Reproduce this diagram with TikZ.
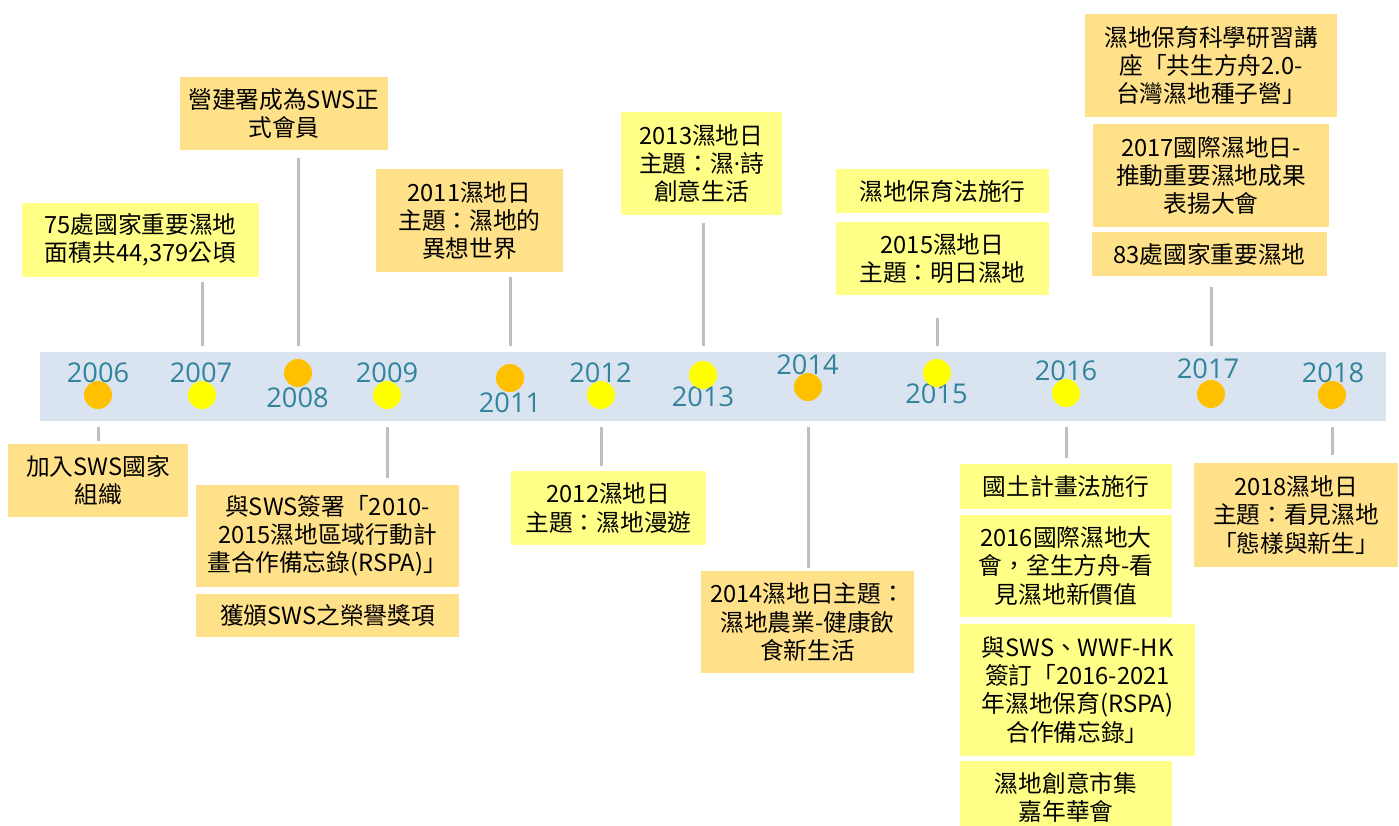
\documentclass[tikz,border=0pt]{standalone}
\usepackage{fontspec}
\newfontfamily\cjk{Noto Sans CJK TC}
\newfontfamily\yearfont{Open Sans}

\definecolor{bandblue}{HTML}{DAE3F0}
\definecolor{tanfill}{HTML}{FFE18A}
\definecolor{lemonfill}{HTML}{FFFF88}
\definecolor{dotorange}{HTML}{FFC000}
\definecolor{dotyellow}{HTML}{FFFF00}
\definecolor{yearteal}{HTML}{31849B}
\definecolor{linegray}{HTML}{BFBFBF}

\tikzset{
  evt/.style={inner sep=0pt, align=center, font=\cjk\fontsize{13.5pt}{16pt}\selectfont},
  tanbox/.style={evt, fill=tanfill},
  lemonbox/.style={evt, fill=lemonfill},
  yeardot/.style={circle, inner sep=0pt, minimum size=0.56cm},
  yearlabel/.style={text=yearteal, inner sep=0pt, font=\yearfont\fontsize{15.5pt}{18pt}\selectfont},
  conn/.style={draw=linegray, line width=0.06cm},
}

\begin{document}
\begin{tikzpicture}[x=0.02cm, y=-0.02cm]
  \useasboundingbox (0,0) rectangle (1399,825);

  % the band
  \fill[bandblue] (40,352) rectangle (1386,421);
  \coordinate (bandtop) at (0,352);
  \coordinate (bandbot) at (0,421);

  % years and dots
  \foreach \yr/\tx/\ty/\dx/\dy/\col in {
      2006/98/373/98/395/dotorange,
      2007/201/373/202/395/dotyellow,
      2008/297.5/398/298/373/dotorange,
      2009/387/373/387/395/dotyellow,
      2011/510/403/510/378/dotorange,
      2012/600.5/373/601/395/dotyellow,
      2013/703/397/703/375/dotyellow,
      2014/807.5/365/808/387/dotorange,
      2015/936.5/394/937/373/dotyellow,
      2016/1066/371/1066/393/dotyellow,
      2017/1208/369/1211/394/dotorange,
      2018/1333/373/1332/395/dotorange}{
    \node[yearlabel] (y\yr) at (\tx,\ty) {\yr};
    \node[yeardot, fill=\col] (d\yr) at (\dx,\dy) {};
  }

  % boxes above the band
  \node[lemonbox, minimum width=4.74cm, minimum height=1.48cm] (b2007) at (140.5,240)
    {75處國家重要濕地\\面積共44,379公頃};
  \node[tanbox, minimum width=4.16cm, minimum height=1.46cm] (b2008) at (284,113.5)
    {營建署成為SWS正\\式會員};
  \node[tanbox, minimum width=3.74cm, minimum height=2.06cm] (b2011) at (469.5,220.5)
    {2011濕地日\\主題：濕地的\\異想世界};
  \node[lemonbox, minimum width=3.22cm, minimum height=2.06cm] (b2013) at (701.5,163.5)
    {2013濕地日\\主題：濕{\yearfont ·}詩\\創意生活};
  \node[lemonbox, minimum width=4.26cm, minimum height=0.88cm] (b2015a) at (942.5,191)
    {濕地保育法施行};
  \node[lemonbox, minimum width=4.26cm, minimum height=1.46cm] (b2015b) at (942.5,258.5)
    {2015濕地日\\主題：明日濕地};
  \node[tanbox, minimum width=5.04cm, minimum height=2.06cm] (b2017a) at (1211,65.5)
    {濕地保育科學研習講\\座「共生方舟2.0-\\台灣濕地種子營」};
  \node[tanbox, minimum width=4.72cm, minimum height=2.06cm] (b2017b) at (1211,175.5)
    {2017國際濕地日-\\推動重要濕地成果\\表揚大會};
  \node[tanbox, minimum width=4.7cm, minimum height=0.88cm] (b2017c) at (1209.5,254)
    {83處國家重要濕地};

  % boxes below the band
  \node[tanbox, minimum width=3.6cm, minimum height=1.46cm] (b2006) at (98,480.5)
    {加入SWS國家\\組織};
  \node[tanbox, minimum width=5.26cm, minimum height=2.04cm] (b2009a) at (327.5,536)
    {與SWS簽署「2010-\\2015濕地區域行動計\\畫合作備忘錄(RSPA)」};
  \node[tanbox, minimum width=5.26cm, minimum height=0.86cm] (b2009b) at (327.5,615.5)
    {獲頒SWS之榮譽獎項};
  \node[lemonbox, minimum width=3.9cm, minimum height=1.48cm] (b2012) at (608.5,508)
    {2012濕地日\\主題：濕地漫遊};
  \node[tanbox, minimum width=4.26cm, minimum height=2.04cm] (b2014) at (807.5,622)
    {2014濕地日主題：\\濕地農業-健康飲\\食新生活};
  \node[lemonbox, minimum width=4.24cm, minimum height=0.9cm] (b2016a) at (1066,486.5)
    {國土計畫法施行};
  \node[lemonbox, minimum width=4.24cm, minimum height=2.04cm] (b2016b) at (1066,566)
    {2016國際濕地大\\會，坌生方舟-看\\見濕地新價值};
  \node[lemonbox, minimum width=4.7cm, minimum height=2.64cm] (b2016c) at (1077.5,690)
    {與SWS、WWF-HK\\簽訂「2016-2021\\年濕地保育(RSPA)\\合作備忘錄」};
  \node[lemonbox, minimum width=4.24cm, minimum height=1.46cm] (b2016d) at (1066,797.5)
    {濕地創意市集\\嘉年華會};
  \node[tanbox, minimum width=4.08cm, minimum height=2.08cm] (b2018) at (1296,515)
    {2018濕地日\\主題：看見濕地\\「態樣與新生」};

  % connectors
  \foreach \yr/\b/\gap in {2007/b2007/0.1cm, 2008/b2008/0.16cm, 2011/b2011/0.1cm,
                           2013/b2013/0.16cm, 2015/b2015b/0.46cm, 2017/b2017c/0.22cm}
    \draw[conn, shorten <=\gap, shorten >=0.12cm] (d\yr |- \b.south) -- (d\yr |- bandtop);
  \foreach \yr/\b/\gap in {2006/b2006/0.06cm, 2009/b2009a/0.14cm, 2012/b2012/0.1cm,
                           2014/b2014/0.06cm, 2016/b2016a/0.12cm, 2018/b2018/0.16cm}
    \draw[conn, shorten <=0.12cm, shorten >=\gap] (d\yr |- bandbot) -- (d\yr |- \b.north);
\end{tikzpicture}
\end{document}
